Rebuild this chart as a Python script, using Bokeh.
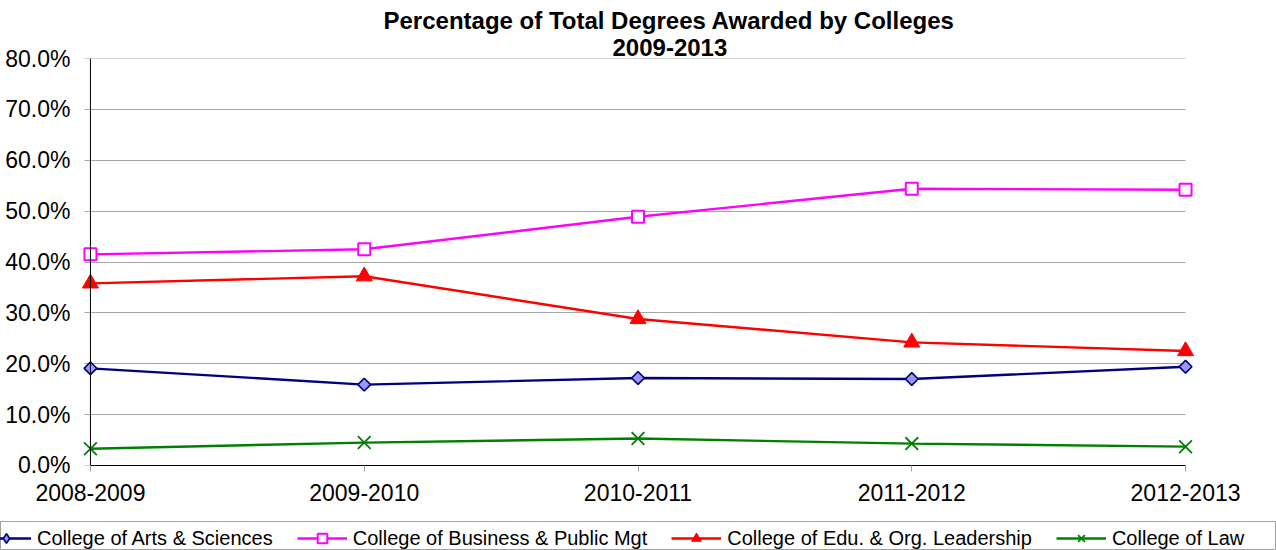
from bokeh.plotting import figure
from bokeh.layouts import column
from bokeh.models import Range1d, FixedTicker, PrintfTickFormatter, Span, Legend, LegendItem, Title
from bokeh.embed import file_html
from bokeh.resources import INLINE
import numpy as np

years = ["2008-2009", "2009-2010", "2010-2011", "2011-2012", "2012-2013"]
arts = [19.1, 15.9, 17.2, 17.0, 19.4]
business = [41.5, 42.5, 48.9, 54.4, 54.2]
edu = [35.8, 37.2, 28.8, 24.2, 22.5]
law = [3.3, 4.5, 5.3, 4.3, 3.7]
y_ticks = [0, 10, 20, 30, 40, 50, 60, 70, 80]
series_names = ["College of Arts & Sciences", "College of Business & Public Mgt",
                "College of Edu. & Org. Leadership", "College of Law"]
title_main = "Percentage of Total Degrees Awarded by Colleges"
title_sub = "2009-2013"

FONT = "Liberation Sans"
xs = list(range(len(years)))
n = len(years) - 1

# ---------------- main chart ----------------
p = figure(width=1276, height=512, output_backend="svg", toolbar_location=None,
           x_range=Range1d(-0.04, n + 0.04),
           y_range=Range1d(y_ticks[0] - 0.001, y_ticks[-1] + 0.001),
           min_border_left=79, min_border_right=80, min_border_top=58, min_border_bottom=47)
p.outline_line_color = None
p.background_fill_color = "white"
p.border_fill_color = "white"

p.add_layout(Title(text=title_sub, align="left", offset=533, text_font=FONT,
                   text_font_style="bold", text_font_size="24px", text_color="black",
                   standoff=6), "above")
p.add_layout(Title(text=title_main, align="left", offset=304, text_font=FONT,
                   text_font_style="bold", text_font_size="24px", text_color="black",
                   standoff=0), "above")

# x axis
xa = p.xaxis[0]
xa.ticker = FixedTicker(ticks=xs)
xa.major_label_overrides = {i: y for i, y in enumerate(years)}
xa.bounds = (0, n)
xa.axis_line_color = "black"
xa.axis_line_width = 1
xa.major_tick_in = 0
xa.major_tick_out = 6
xa.major_tick_line_color = "#a0a0a0"
xa.minor_tick_line_color = None
xa.major_label_standoff = 12
xa.major_label_text_font = FONT
xa.major_label_text_font_size = "23px"
xa.major_label_text_color = "black"

# y axis
ya = p.yaxis[0]
ya.ticker = FixedTicker(ticks=y_ticks)
ya.formatter = PrintfTickFormatter(format="%.1f%%")
ya.axis_line_color = None
ya.major_tick_line_color = None
ya.minor_tick_line_color = None
ya.major_tick_in = 0
ya.major_tick_out = 0
ya.minor_tick_out = 0
ya.major_label_standoff = 9
ya.major_label_text_font = FONT
ya.major_label_text_font_size = "23px"
ya.major_label_text_color = "black"

p.xgrid.visible = False
p.ygrid.grid_line_color = "#a6a6a6"
p.ygrid.grid_line_width = 1
p.ygrid.cross_bounds = (-0.022, n)

p.add_layout(Span(location=0, dimension="height", line_color="black", line_width=1))

styles = [
    dict(color="#000080", marker="square", angle=np.pi / 4, size=9, fill="#9999ff", lw=1.6, legend_marker="diamond"),
    dict(color="#ff00ff", marker="square", angle=0, size=12, fill="white", lw=2, legend_marker="square"),
    dict(color="#ff0000", marker="triangle", angle=0, size=16, fill="#ff0000", lw=1, legend_marker="triangle"),
    dict(color="#008000", marker="x", angle=0, size=18, fill=None, lw=1.8, legend_marker="x"),
]
series = [arts, business, edu, law]

for vals, st in zip(series, styles):
    p.line(xs, vals, line_color=st["color"], line_width=2.4)
    p.scatter(xs, vals, marker=st["marker"], angle=st["angle"], size=st["size"],
              fill_color=st["fill"], line_color=st["color"], line_width=st["lw"])

# ---------------- legend strip ----------------
q = figure(frame_width=1276, frame_height=29, output_backend="svg", toolbar_location=None,
           x_axis_location=None, y_axis_location=None, title=None,
           x_range=Range1d(100, 101), y_range=Range1d(1000, 1001),
           min_border=0, min_border_top=9)
q.outline_line_color = "#a0a0a0"
q.outline_line_width = 1
q.outline_line_alpha = 1.0
q.grid.visible = False
for fig in (p, q):
    if "frame_align" in fig.properties():
        fig.frame_align = False

items = []
for name, vals, st in zip(series_names, series, styles):
    rl = q.line(xs, vals, line_color=st["color"], line_width=2.4)
    rm = q.scatter(xs, vals, marker=st["legend_marker"], size=st["size"],
                   fill_color=st["fill"], line_color=st["color"], line_width=st["lw"])
    items.append(LegendItem(label=name, renderers=[rl, rm]))

legend = Legend(items=items, orientation="horizontal", location=(-19, 0), padding=5, spacing=24,
                glyph_width=50, glyph_height=24, label_height=24, label_standoff=6,
                label_text_font=FONT, label_text_font_size="20px", label_text_color="black",
                border_line_color=None, margin=0,
                background_fill_alpha=0.0)
q.add_layout(legend)

open("out.html", "w").write(file_html(column(p, q, spacing=0), INLINE))
